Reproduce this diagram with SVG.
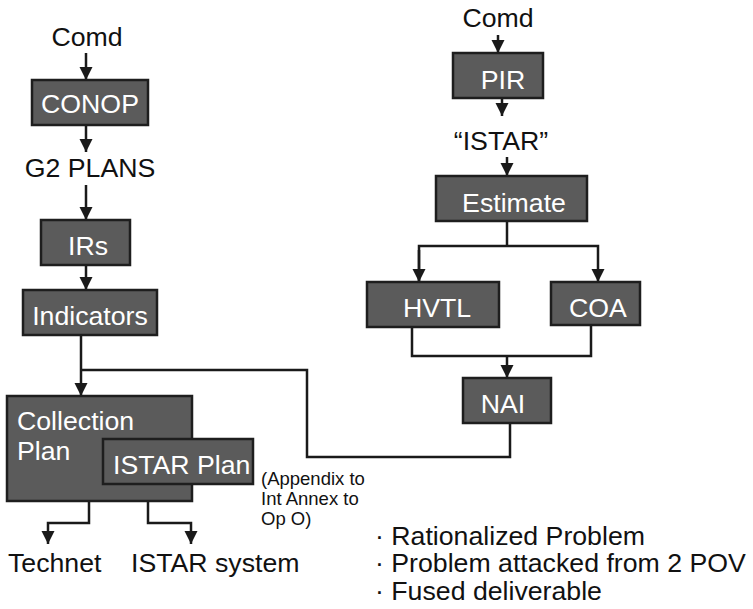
<svg xmlns="http://www.w3.org/2000/svg" width="753" height="609" viewBox="0 0 753 609">
<style>
.box{fill:#5b5b5b;stroke:#1e1e1e;stroke-width:2.5}
.bt{fill:#ffffff;font-family:"Liberation Sans",Arial,sans-serif;font-size:26.7px}
.t{fill:#111111;font-family:"Liberation Sans",Arial,sans-serif;font-size:26.7px}
.s{fill:#111111;font-family:"Liberation Sans",Arial,sans-serif;font-size:18.5px}
.c{fill:none;stroke:#1a1a1a;stroke-width:2.5}
.m{text-anchor:middle}
</style>
<defs>
<marker id="ah" markerUnits="userSpaceOnUse" markerWidth="14" markerHeight="14" refX="13" refY="6.5" orient="auto">
<path d="M0,0 L13,6.5 L0,13 z" fill="#1a1a1a"/>
</marker>
</defs>
<g id="connectors">
<line class="c" x1="86" y1="53" x2="86" y2="80" marker-end="url(#ah)"/>
<line class="c" x1="86" y1="125" x2="86" y2="152" marker-end="url(#ah)"/>
<line class="c" x1="86" y1="185" x2="86" y2="220" marker-end="url(#ah)"/>
<line class="c" x1="86" y1="265" x2="86" y2="290" marker-end="url(#ah)"/>
<line class="c" x1="81" y1="335" x2="81" y2="396" marker-end="url(#ah)"/>
<polyline class="c" points="81,370 307,370 307,457 510,457 510,423"/>
<polyline class="c" points="89,501 89,523 48,523 48,544" marker-end="url(#ah)"/>
<polyline class="c" points="148,501 148,523 191,523 191,544" marker-end="url(#ah)"/>
<line class="c" x1="498" y1="35" x2="498" y2="53" marker-end="url(#ah)"/>
<line class="c" x1="502" y1="98" x2="502" y2="116" marker-end="url(#ah)"/>
<line class="c" x1="507" y1="157" x2="507" y2="176" marker-end="url(#ah)"/>
<line class="c" x1="507" y1="221" x2="507" y2="246"/>
<polyline class="c" points="419,282 419,246 598,246 598,282" marker-end="url(#ah)"/>
<line class="c" x1="419" y1="250" x2="419" y2="282" marker-end="url(#ah)"/>
<polyline class="c" points="412,327 412,356 591,356 591,324"/>
<line class="c" x1="507" y1="356" x2="507" y2="378" marker-end="url(#ah)"/>
</g>
<g id="comd-left"><text class="t m" x="87" y="46">Comd</text></g>
<g id="conop"><rect class="box" x="32" y="80" width="116" height="45"/><text class="bt m" x="90" y="113">CONOP</text></g>
<g id="g2plans"><text class="t m" x="90" y="177">G2 PLANS</text></g>
<g id="irs"><rect class="box" x="41" y="220" width="89" height="45"/><text class="bt m" x="88" y="255">IRs</text></g>
<g id="indicators"><rect class="box" x="23" y="290" width="134" height="45"/><text class="bt m" x="90" y="325">Indicators</text></g>
<g id="collection-plan"><rect class="box" x="7" y="396" width="185" height="105"/><text class="bt" x="17" y="430">Collection</text><text class="bt" x="17" y="460">Plan</text></g>
<g id="istar-plan"><rect class="box" x="103" y="439" width="150" height="45"/><text class="bt" x="113" y="474">ISTAR Plan</text></g>
<g id="appendix-note"><text class="s" x="261" y="485">(Appendix to</text><text class="s" x="261" y="505">Int Annex to</text><text class="s" x="261" y="525">Op O)</text></g>
<g id="technet"><text class="t" x="8" y="572">Technet</text></g>
<g id="istar-system"><text class="t" x="131" y="572">ISTAR system</text></g>
<g id="comd-right"><text class="t m" x="498" y="27">Comd</text></g>
<g id="pir"><rect class="box" x="453" y="53" width="90" height="45"/><text class="bt m" x="503" y="89">PIR</text></g>
<g id="istar-quote"><text class="t m" x="501" y="150">“ISTAR”</text></g>
<g id="estimate"><rect class="box" x="436" y="176" width="151" height="45"/><text class="bt m" x="514" y="212">Estimate</text></g>
<g id="hvtl"><rect class="box" x="367" y="282" width="132" height="45"/><text class="bt m" x="437" y="317">HVTL</text></g>
<g id="coa"><rect class="box" x="551" y="282" width="89" height="43"/><text class="bt m" x="598" y="317">COA</text></g>
<g id="nai"><rect class="box" x="463" y="378" width="88" height="45"/><text class="bt m" x="503" y="413">NAI</text></g>
<g id="bullets"><text class="t" x="375" y="545">· Rationalized Problem</text><text class="t" x="375" y="572">· Problem attacked from 2 POV</text><text class="t" x="375" y="600">· Fused deliverable</text></g>
</svg>
